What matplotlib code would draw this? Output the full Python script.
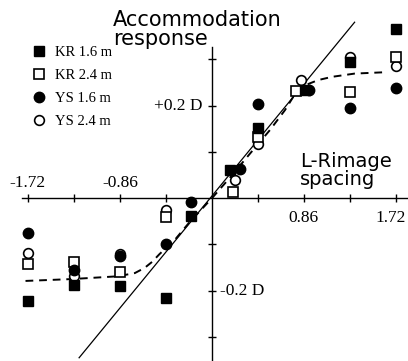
import matplotlib.pyplot as plt
import matplotlib as mpl

mpl.rcParams.update({
    'font.family': 'serif',
    'font.serif': ['Liberation Serif', 'DejaVu Serif'],
    'axes.linewidth': 1.0,
})

SANS = ['DejaVu Sans']

# ── data ───────────────────────────────────────────────────────────────────────
# KR 1.6 m  (filled squares)
kr16_x = [-1.72, -1.29, -0.86, -0.43, -0.20, 0.17, 0.43, 0.87, 1.29, 1.72]
kr16_y = [-0.223, -0.188, -0.189, -0.216, -0.039, 0.061, 0.152, 0.233, 0.295, 0.365]
# KR 2.4 m  (open squares)
kr24_x = [-1.72, -1.29, -0.86, -0.43, 0.20, 0.43, 0.78, 1.29, 1.72]
kr24_y = [-0.143, -0.138, -0.159, -0.041, 0.014, 0.133, 0.232, 0.230, 0.305]
# YS 1.6 m  (filled circles)
ys16_x = [-1.72, -1.29, -0.86, -0.43, -0.20, 0.26, 0.43, 0.90, 1.29, 1.72]
ys16_y = [-0.075, -0.155, -0.125, -0.099, -0.008, 0.062, 0.203, 0.233, 0.195, 0.237]
# YS 2.4 m  (open circles)
ys24_x = [-1.72, -1.29, -0.86, -0.43, 0.21, 0.43, 0.83, 1.29, 1.72]
ys24_y = [-0.119, -0.168, -0.120, -0.026, 0.039, 0.117, 0.255, 0.305, 0.285]

# solid reference line
line_x = [-1.24, 1.33]
line_y = [-0.345, 0.380]

# dashed fitted curve
fit_x = [-1.74, -1.31, -0.88, -0.72, -0.63, -0.56, -0.49, -0.35, -0.21, 0.0,
         0.17, 0.35, 0.54, 0.68, 0.78, 0.87, 0.99, 1.12, 1.33, 1.62]
fit_y = [-0.179, -0.175, -0.169, -0.162, -0.151, -0.138, -0.121, -0.091, -0.052, 0.0,
         0.045, 0.095, 0.147, 0.190, 0.227, 0.244, 0.255, 0.262, 0.269, 0.272]

x_ticks = [-1.72, -1.29, -0.86, -0.43, 0.43, 0.86, 1.29, 1.72]
y_ticks = [-0.3, -0.2, -0.1, 0.1, 0.2, 0.3]
x_labels_neg = [(-1.72, '-1.72'), (-0.86, '-0.86')]
x_labels_pos = [(0.85, '0.86'), (1.67, '1.72')]

# ── figure ─────────────────────────────────────────────────────────────────────
fig = plt.figure(figsize=(4.08, 3.61), dpi=100)
ax = fig.add_axes([0, 0, 1, 1])
ax.set_xlim(-1.978, 1.828)
ax.set_ylim(-0.352, 0.428)

for s in ('top', 'right'):
    ax.spines[s].set_visible(False)
ax.spines['left'].set_position(('data', 0))
ax.spines['bottom'].set_position(('data', 0))
ax.spines['left'].set_bounds(-0.36, 0.326)
ax.spines['bottom'].set_bounds(-1.77, 1.83)
ax.set_xticks(x_ticks)
ax.set_yticks(y_ticks)
ax.set_xticklabels([])
ax.set_yticklabels([])
ax.tick_params(direction='inout', length=6, width=1.0)

# lines
ax.plot(line_x, line_y, color='black', lw=0.9, zorder=2)
ax.plot(fit_x, fit_y, color='black', lw=1.4, ls=(0, (4, 3)), zorder=2)

# markers (drawing order matters for overlaps)
ax.plot(ys24_x, ys24_y, 'o', ms=7, mfc='white', mec='black', mew=1.2,
        ls='none', zorder=3, label='YS 2.4 m')
ax.plot(kr24_x, kr24_y, 's', ms=6.5, mfc='white', mec='black', mew=1.2,
        ls='none', zorder=4, label='KR 2.4 m')
ax.plot(ys16_x, ys16_y, 'o', ms=7.5, color='black',
        ls='none', zorder=5, label='YS 1.6 m')
ax.plot(kr16_x, kr16_y, 's', ms=6.5, color='black',
        ls='none', zorder=6, label='KR 1.6 m')

handles, labels = ax.get_legend_handles_labels()
order = [3, 1, 2, 0]
ax.legend([handles[i] for i in order], [labels[i] for i in order],
          loc='upper left', bbox_to_anchor=(0.078, 0.874), frameon=False,
          fontsize=10.5, handlelength=1.0, handletextpad=0.6,
          labelspacing=0.68, borderpad=0, borderaxespad=0, numpoints=1)

# tick labels
for x, t in x_labels_neg:
    ax.text(x, 0.032, t, ha='center', va='center', fontsize=12.5)
for x, t in x_labels_pos:
    ax.text(x, -0.043, t, ha='center', va='center', fontsize=12.5)
ax.text(-0.093, 0.2, '+0.2 D', ha='right', va='center', fontsize=12.5)
ax.text(0.075, -0.2, '-0.2 D', ha='left', va='center', fontsize=12.5)

# axis titles
ax.text(-0.923, 0.406, 'Accommodation\nresponse', ha='left', va='top',
        fontsize=15, family=SANS, linespacing=0.95)
ax.text(0.821, 0.0995, 'L-Rimage\nspacing', ha='left', va='top',
        fontsize=14, family=SANS, linespacing=0.95)

fig.savefig('out.png', dpi=100, facecolor='white')
